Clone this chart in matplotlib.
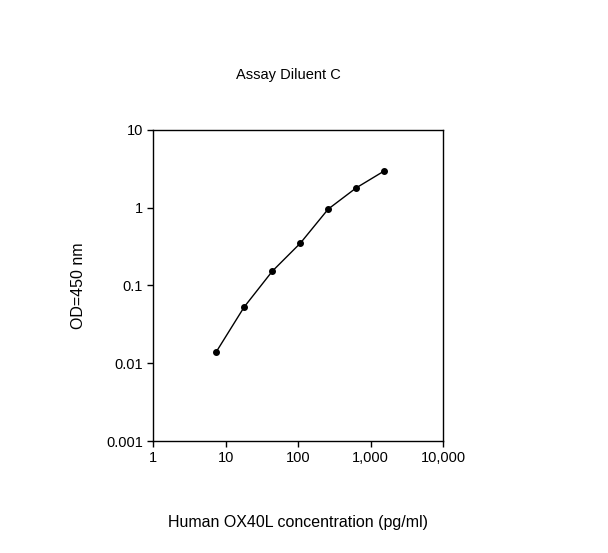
import matplotlib
matplotlib.use("Agg")
import matplotlib.pyplot as plt
from matplotlib.ticker import FixedLocator, NullLocator

conc = [7.4, 18, 44, 107, 259, 631, 1535]
od = [0.014, 0.053, 0.153, 0.35, 0.96, 1.8, 2.97]
xticks = [1, 10, 100, 1000, 10000]
xlabels = ["1", "10", "100", "1,000", "10,000"]
yticks = [0.001, 0.01, 0.1, 1, 10]
ylabels = ["0.001", "0.01", "0.1", "1", "10"]

plt.rcParams['font.family'] = ['Liberation Sans', 'DejaVu Sans']
fig = plt.figure(figsize=(6.08, 5.53), dpi=100)
ax = fig.add_axes([0.252, 0.2025, 0.477, 0.5625])
ax.plot(conc, od, color='black', marker='o', markersize=4, linewidth=1)
ax.set_xscale('log'); ax.set_yscale('log')
ax.set_xlim(1, 10000); ax.set_ylim(0.001, 10)
ax.xaxis.set_major_locator(FixedLocator(xticks)); ax.xaxis.set_minor_locator(NullLocator())
ax.yaxis.set_major_locator(FixedLocator(yticks)); ax.yaxis.set_minor_locator(NullLocator())
ax.set_xticklabels(xlabels, fontsize=10.5); ax.set_yticklabels(ylabels, fontsize=10.5)
ax.tick_params(direction='out', length=4, width=1)
for s in ax.spines.values():
    s.set_linewidth(1)
ax.set_xlabel("Human OX40L concentration (pg/ml)", fontsize=11.5, labelpad=36)
ax.set_ylabel("OD=450 nm", fontsize=11.5, labelpad=14)
fig.text(0.475, 1 - 75/553, "Assay Diluent C", ha='center', va='center', fontsize=10.5)
fig.savefig("out.png", dpi=100)
